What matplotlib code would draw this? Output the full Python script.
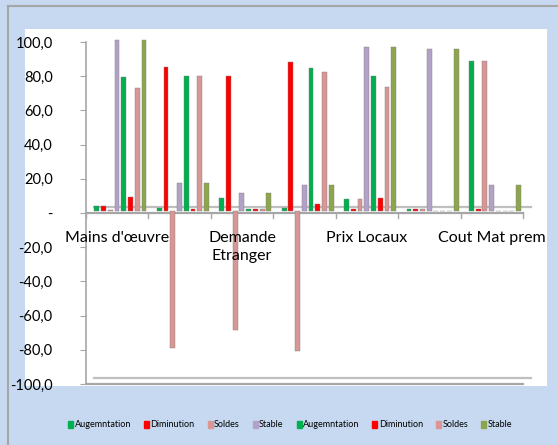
import matplotlib
matplotlib.use("Agg")
import matplotlib.pyplot as plt
import numpy as np
from matplotlib.transforms import ScaledTranslation
from matplotlib.patches import Rectangle

plt.rcParams['font.family'] = ['Lato', 'DejaVu Sans']

# 7 categories, only every other one gets a label on the axis (as in the source chart)
tick_labels = ["Mains d'œuvre", "Demande\nEtranger", "Prix Locaux", "Cout Mat prem"]
label_cats = [0, 2, 4, 6]

series_names = ["Augemntation", "Diminution", "Soldes", "Stable",
                "Augemntation", "Diminution", "Soldes", "Stable"]
series_colors = ["#00B050", "#FF0000", "#DA9694", "#B3A2C7",
                 "#00B050", "#FF0000", "#DA9694", "#8DA64C"]

aug_1 = [3, 2, 7.5, 2, 7, 1, 87.5]
dim_1 = [3, 84.5, 79, 87, 1, 1, 1]
sol_1 = [0.5, -80, -69.5, -82, 7, 1, 87.5]
sta_1 = [100, 16.5, 10.5, 15, 96, 94.5, 15]
aug_2 = [78.5, 79, 1, 83.5, 79, 0, 0]
dim_2 = [8, 1, 1, 4, 7.5, 0, 0]
sol_2 = [72, 79, 1, 81, 72.5, 0, 0]
sta_2 = [100, 16.5, 10.5, 15, 96, 94.5, 15]
series = [aug_1, dim_1, sol_1, sta_1, aug_2, dim_2, sol_2, sta_2]

W, H, DPI = 5.58, 4.45, 100
fig = plt.figure(figsize=(W, H), dpi=DPI)
fig.patch.set_facecolor("#C6D9F1")

# white chart area and thin grey frame like the screenshot
fig.add_artist(Rectangle((25 / 558, 1 - 386 / 445), (547 - 25) / 558, (386 - 29) / 445,
                         transform=fig.transFigure, facecolor="white", edgecolor="none", zorder=-5))
fig.add_artist(plt.Line2D([8 / 558, 8 / 558], [0, 1 - 6 / 445], transform=fig.transFigure,
                          color="#A6A6A6", lw=1.5))
fig.add_artist(plt.Line2D([8 / 558, 1], [1 - 6 / 445, 1 - 6 / 445], transform=fig.transFigure,
                          color="#A6A6A6", lw=1.5))

ax = fig.add_axes([86 / 558, 1 - 384 / 445, (523 - 86) / 558, (384 - 42) / 445])
ax.set_facecolor("none")
ax.set_xlim(0, 7)
ax.set_ylim(-100, 100)

n_cat = len(aug_1)
slot = 0.108
bar_w = 0.078
start = 0.125

# small offset to mimic the 3D depth of the Excel chart
depth = ax.transData + ScaledTranslation(3 / DPI, 2 / DPI, fig.dpi_scale_trans)
back = ax.transData + ScaledTranslation(8 / DPI, 6 / DPI, fig.dpi_scale_trans)

# floors at zero and at the bottom (thin grey slabs)
for y0 in (0, -100):
    ax.plot([0, 7], [y0, y0], color="#A6A6A6", lw=1.6, zorder=1, clip_on=False)
    ax.plot([0, 7], [y0, y0], color="#BFBFBF", lw=1.6, transform=back, zorder=1, clip_on=False)

for k, vals in enumerate(series):
    x = np.arange(n_cat) + start + k * slot
    bars = ax.bar(x, vals, width=bar_w, color=series_colors[k],
                  edgecolor="#7F7F7F", linewidth=0.3, zorder=3)
    for b in bars:
        b.set_transform(depth)
        b.set_clip_on(False)

ax.spines["top"].set_visible(False)
ax.spines["right"].set_visible(False)
ax.spines["bottom"].set_visible(False)
ax.spines["left"].set_color("#A6A6A6")
ax.spines["left"].set_linewidth(1.2)

yt = np.arange(-100, 101, 20)
ax.set_yticks(yt)
ax.set_yticklabels(["-" if v == 0 else f"{v:.1f}".replace(".", ",") for v in yt], fontsize=10.5)
ax.tick_params(axis="y", length=4, color="#A6A6A6", pad=20)

ax.set_xticks([])
for i in range(n_cat + 1):
    ax.plot([i, i], [0, -3], color="#A6A6A6", lw=1, clip_on=False, zorder=2)

for c, lab in zip(label_cats, tick_labels):
    ax.text(c + 0.5, -10.5, lab, ha="center", va="top", fontsize=11.5, linespacing=1.35, zorder=4)

handles = [Rectangle((0, 0), 1, 1, color=c) for c in series_colors]
fig.legend(handles, series_names, loc="center", bbox_to_anchor=(0.52, 0.045), ncol=8,
           frameon=False, fontsize=6.5, handlelength=0.55, handleheight=0.8,
           handletextpad=0.15, columnspacing=1.45)

fig.savefig("out.png", dpi=DPI, facecolor=fig.get_facecolor())
